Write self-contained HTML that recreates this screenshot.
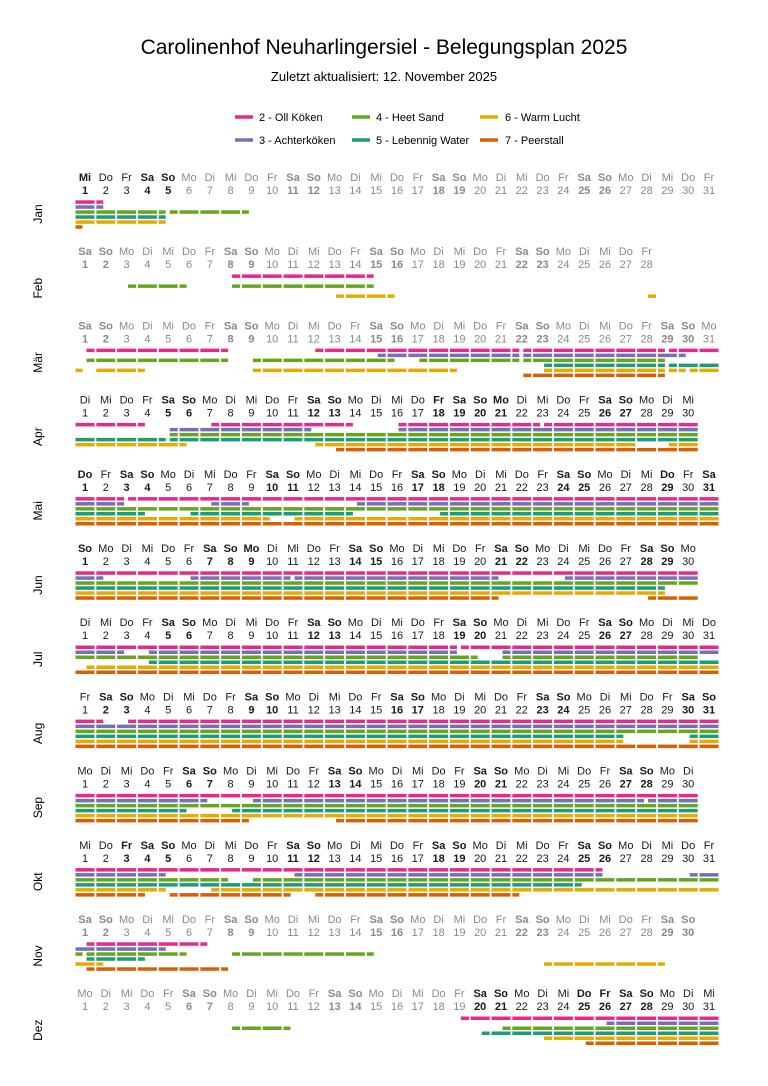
<!DOCTYPE html>
<html><head><meta charset="utf-8"><style>
html,body{margin:0;padding:0;background:#fff}
svg{display:block;font-family:"Liberation Sans",sans-serif}
</style></head><body>
<svg id="s" width="768" height="1086" viewBox="0 0 768 1086" xmlns="http://www.w3.org/2000/svg">
<text x="384" y="54" text-anchor="middle" font-size="21" fill="#000">Carolinenhof Neuharlingersiel - Belegungsplan 2025</text>
<text x="384" y="81" text-anchor="middle" font-size="13" fill="#000">Zuletzt aktualisiert: 12. November 2025</text>
<g font-size="11" fill="#000">
<line x1="235" y1="117" x2="253" y2="117" stroke="#e7298a" stroke-width="3.5"/><text x="259" y="121">2 - Oll Köken</text>
<line x1="352" y1="117" x2="370" y2="117" stroke="#66a61e" stroke-width="3.5"/><text x="376" y="121">4 - Heet Sand</text>
<line x1="480" y1="117" x2="498" y2="117" stroke="#e6ab02" stroke-width="3.5"/><text x="505" y="121">6 - Warm Lucht</text>
<line x1="235" y1="140" x2="253" y2="140" stroke="#7570b3" stroke-width="3.5"/><text x="259" y="144">3 - Achterköken</text>
<line x1="352" y1="140" x2="370" y2="140" stroke="#1b9e77" stroke-width="3.5"/><text x="376" y="144">5 - Lebennig Water</text>
<line x1="480" y1="140" x2="498" y2="140" stroke="#d95f02" stroke-width="3.5"/><text x="505" y="144">7 - Peerstall</text>
</g>
<g id="g"></g>
</svg>
<script>
var cols=["#e7298a","#7570b3","#66a61e","#1b9e77","#e6ab02","#d95f02"];
var names=["Jan","Feb","Mär","Apr","Mai","Jun","Jul","Aug","Sep","Okt","Nov","Dez"];
var wd=["So","Mo","Di","Mi","Do","Fr","Sa"];
var hol={"0-1":1,"3-18":1,"3-21":1,"4-1":1,"4-29":1,"5-9":1,"9-3":1,"11-25":1,"11-26":1};
var D=[
["1,<2","1,<2","1-4,|5,6-8,<9","1-4,<5","1-4,<5","<1"],
["8>,9-14,<15".replace("8>",">8"),"",">3,4-5,<6,>8,9-14,<15","",">13,14-15,<16,>28",""],
[">1,2-7,<8,>12,13-21,|22,23-28,|29,30-31",">15,16-21,|22,23-29,<30",">1,2-7,<8,>9,10-15,<16,>17,18-21,|22,23-28,<29",">23,24-28,|29,30-31","<1,2-3,<4,>9,10-18,<19,>23,24-28,|29,|30,31",">22,23-28,<29"],
["1-3,<4,>7,8-13,<14,>16,17-22,|23,24-30",">5,6-11,<12,>16,17-30",">5,6-30","1-4,|5,6-30","1-5,<6,>12,13-27,>29,30",">13,14-30"],
["1-2,|3,4-31","1-2,<3,>7,8,<9,>14,15-31","1-31","1-3,<4,>6,7-13,<14,>18,19-31","1-9,<10,>11,12-31","1-31"],
["1-30","1,<2,>6,7-10,<11,>11,12-20,<21,>24,25-30","1-30","1-28,<29","1-28,<29","1-20,<21,>28,29-30"],
["1-18,|19,20-31","1-2,<3,>4,5-18,<19,>21,22-31","1-19,<20,>21,22-30",">4,5-31",">1,2-31","1-31"],
["1,<2,>3,4-31","1-31","1-31","1-26,<27,>30,31","1-26,<27,>30,31","1-31"],
["1-30","1-6,<7,>9,10-27,|28,29-30","1-30","1-5,<6,>8,9-30","1-30","1-8,<9,>13,14-30"],
["1-25,<26","1-4,<5,>11,12-25,<26,>30,31","1-7,<8,>9,10-31","1-24,<25","1-4,<5,>7,8-31","1-3,<4,>5,6-10,<11,>12,13-21,<22"],
[">1,2-6,<7","1-4,<5","|1,2-5,<6,>8,9-14,<15",">1,2-3,<4","1,<2,>23,24-28,<29",">1,2-7,<8"],
[">19,20-31",">26,27-31",">8,9-10,<11,>21,22-31",">20,21-31",">23,24-31",">25,26-31"]
];
var nd=[31,28,31,30,31,30,31,31,30,31,30,31];
var h='';
function cx(d){return 85+(d-1)*20.8;}
for(var m=0;m<12;m++){
 var y0=177+m*74.2;
 for(var d=1;d<=nd[m];d++){
  var w=new Date(2025,m,d).getDay();
  var b=(w==0||w==6||hol[m+"-"+d]);
  var dark=(m>=3&&m<=9)||(m==0&&d<=5)||(m==11&&d>=20);
  var c=dark?"#1a1a1a":"#8a8a8a";
  var fw=b?"bold":"normal";
  h+='<text x="'+cx(d)+'" y="'+(y0+4)+'" text-anchor="middle" font-size="11" font-weight="'+fw+'" fill="'+c+'">'+wd[w]+'</text>';
  h+='<text x="'+cx(d)+'" y="'+(y0+17)+'" text-anchor="middle" font-size="11" font-weight="'+fw+'" fill="'+c+'">'+d+'</text>';
 }
 h+='<text transform="translate(42,'+(y0+37)+') rotate(-90)" text-anchor="middle" font-size="12" fill="#000">'+names[m]+'</text>';
 for(var r=0;r<6;r++){
  var s=D[m][r]; if(!s) continue;
  var yy=y0+25+r*5-1.75;
  s.split(",").forEach(function(t){
   var segs=[];
   var k=t.charAt(0);
   if(k=="<"||k==">"||k=="|"){
    var dd=+t.slice(1),c=cx(dd);
    if(k!=">")segs.push([c-9.5,c-2.5]);
    if(k!="<")segs.push([c+1.5,c+9.5]);
   } else {
    var p=t.split("-"),a=+p[0],e=p.length>1?+p[1]:a;
    for(var q=a;q<=e;q++){var c=cx(q);segs.push([c-9.5,c+9.5]);}
   }
   segs.forEach(function(g){h+='<rect x="'+g[0].toFixed(1)+'" y="'+yy.toFixed(1)+'" width="'+(g[1]-g[0]).toFixed(1)+'" height="3.5" fill="'+cols[r]+'"/>';});
  });
 }
}
document.getElementById("g").innerHTML=h;
</script>
</body></html>
